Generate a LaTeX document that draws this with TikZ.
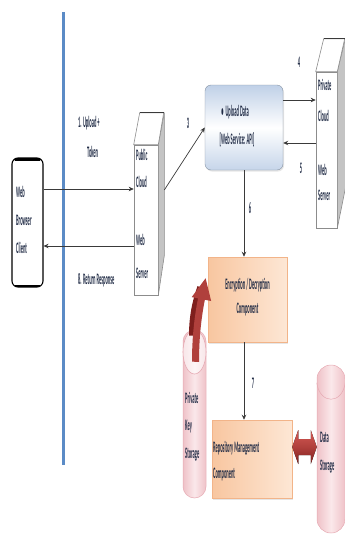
\documentclass[tikz,border=0pt]{standalone}
\usepackage{fontspec}
\newfontfamily\cf[FakeStretch=0.28]{Carlito}
\usetikzlibrary{arrows.meta,shapes.geometric,calc,shadows}
\definecolor{ink}{HTML}{1F2A44}
\definecolor{blueline}{HTML}{5B8BC6}
\definecolor{linegray}{HTML}{3A3A3A}
\definecolor{boxgray}{HTML}{8C8C8C}
\definecolor{sidegray}{HTML}{C4C4C4}
\definecolor{apitop}{HTML}{BFD0E7}
\definecolor{apibot}{HTML}{C6D5EA}
\definecolor{orleft}{HTML}{F8C6A0}
\definecolor{orright}{HTML}{FDE7D5}
\definecolor{orborder}{HTML}{F2B489}
\definecolor{pinkedge}{HTML}{EFC2C8}
\definecolor{pinkmid}{HTML}{FBE8EA}
\definecolor{pinkline}{HTML}{E6AAB3}
\definecolor{redarrow}{HTML}{B0403C}
\definecolor{reddark}{HTML}{7E1F1D}
\definecolor{redlight}{HTML}{D65A55}
\begin{document}
\begin{tikzpicture}[x=1pt,y=-1pt,
  txt/.style={font=\cf\bfseries\fontsize{16}{18}\selectfont, text=ink, inner sep=0pt},
  conn/.style={draw=linegray, line width=0.7pt, -{Stealth[length=5pt,width=4.5pt]}},
  frontface/.style={draw=boxgray, line width=0.6pt, fill=white, inner sep=0pt},
  orbox/.style={draw=orborder, line width=0.5pt, left color=orleft, right color=orright, inner sep=0pt,
     drop shadow={opacity=0.2, shadow xshift=1pt, shadow yshift=-1.5pt}},
  pill/.style={draw=pinkline, line width=0.5pt, left color=pinkedge, right color=pinkedge, middle color=pinkmid}
]
\useasboundingbox (0,0) rectangle (345,536);

% blue separator
\draw[blueline, line width=3pt] (63,12) -- (63,465);

% web browser client
\node[draw=black, line width=1.1pt, rounded corners=6pt, minimum width=31pt, minimum height=129pt, inner sep=0pt, fill=white] (client) at (27.5,222.5) {};
\draw[line width=3pt, line cap=round] ($(client.north west)+(4,2)$) -- ($(client.north east)+(-4,2)$);
\draw[line width=2pt, line cap=round] ($(client.south west)+(4,-1.5)$) -- ($(client.south east)+(-4,-1.5)$);
\node[txt, anchor=west] (cl1) at (16,192) {Web};
\node[txt, anchor=west] (cl2) at (16,220) {Browser};
\node[txt, anchor=west] (cl3) at (16,248) {Client};

% public cloud web server (3D box)
\node[frontface, minimum width=24pt, minimum height=150pt] (pubf) at (146,220) {};
\draw[draw=boxgray, line width=0.6pt, fill=sidegray] (pubf.north east) -- ++(6,-32) -- ++(0,143) -- ($(pubf.south east)$) -- cycle;
\draw[draw=boxgray, line width=0.6pt, fill=white] (pubf.north west) -- ++(6,-32) -- ++(24,0) -- (pubf.north east) -- cycle;
\draw[line width=1pt, draw=linegray] ($(pubf.north west)+(6,-32)$) -- ++(24,0);
\node[txt, anchor=west] (pu1) at (136,155) {Public};
\node[txt, anchor=west] (pu2) at (136,182) {Cloud};
\node[txt, anchor=west] (pu3) at (136,240) {Web};
\node[txt, anchor=west] (pu4) at (136,273) {Server};

% private cloud web server (3D box)
\node[frontface, minimum width=21pt, minimum height=156pt] (privf) at (326.5,150) {};
\draw[draw=boxgray, line width=0.6pt, fill=sidegray] (privf.north east) -- ++(8,-33) -- ++(0,150) -- (privf.south east) -- cycle;
\draw[draw=boxgray, line width=0.6pt, fill=white] (privf.north west) -- ++(8,-33) -- ++(21,0) -- (privf.north east) -- cycle;
\draw[line width=1pt, draw=linegray] ($(privf.north west)+(8,-33)$) -- ++(21,0);
\node[txt, anchor=west] (pr1) at (318,85) {Private};
\node[txt, anchor=west] (pr2) at (318,116) {Cloud};
\node[txt, anchor=west] (pr3) at (318,170) {Web};
\node[txt, anchor=west] (pr4) at (318,195) {Server};

% API box
\node[draw=apitop!70!black, line width=0.4pt, rounded corners=6pt, minimum width=78pt, minimum height=85pt,
      top color=apitop, bottom color=apibot, middle color=white, inner sep=0pt,
      drop shadow={opacity=0.2, shadow xshift=1pt, shadow yshift=-1.5pt}] (api) at (244,127.5) {};
\node[txt, anchor=center] (ap1) at (235,112) {\textbullet\ \ Upload Data};
\node[txt, anchor=center] (ap2) at (237,140) {[Web Service: API]};

% encryption box
\node[orbox, minimum width=79pt, minimum height=85pt] (enc) at (247.5,299.5) {};
\node[txt] (en1) at (247.5,285) {Encryption / Decryption};
\node[txt] (en2) at (247.5,310) {Component};

% repository box
\node[orbox, minimum width=80pt, minimum height=78pt] (repo) at (252,459) {};
\node[txt, anchor=west] (re1) at (213,448) {Repository Management};
\node[txt, anchor=west] (re2) at (213,475) {Component};

% private key storage
\node[pill, rounded corners=11.5pt, minimum width=23pt, minimum height=168pt, inner sep=0pt] (pks) at (194.5,414) {};
\draw[draw=pinkline, line width=0.6pt, fill=white, fill opacity=0.6] (194.5,352) ellipse [x radius=11.5pt, y radius=22pt];
\node[txt, anchor=west] (pk1) at (185,398) {Private};
\node[txt, anchor=west] (pk2) at (185,427) {Key};
\node[txt, anchor=west] (pk3) at (185,455) {Storage};

% data storage
\node[pill, rounded corners=14pt, minimum width=28pt, minimum height=168pt, inner sep=0pt] (ds) at (331,449) {};
\draw[draw=pinkline, line width=0.5pt] ($(ds.north west)+(0,18)$) .. controls ($(ds.north west)+(3,40)$) and ($(ds.north east)+(-3,40)$) .. ($(ds.north east)+(0,18)$);
\node[txt, anchor=west] (ds1) at (320,437) {Data};
\node[txt, anchor=west] (ds2) at (320,467) {Storage};

% red curved arrow from key storage to encryption
\coordinate (ra0) at ($(pks.north)+(1,32)$);
\coordinate (ra1) at ($(enc.west)+(-2,-22)$);
\draw[reddark, line width=9pt] ($(ra0)+(-2,-26)$) .. controls ($(ra0)+(-2,-50)$) and ($(ra0)+(3,-64)$) .. ($(ra1)+(-4,10)$);
\draw[redarrow, line width=7pt, -{Triangle[length=22pt,width=18pt]}] (ra0) .. controls ($(ra0)+(0,-32)$) and ($(ra1)+(-6,30)$) .. (ra1);

% double arrow repository <-> data storage
\coordinate (dl) at (repo.east |- 0,447);
\coordinate (dr) at (ds.west |- 0,447);
\fill[top color=redlight, bottom color=reddark, middle color=redarrow]
  (dl) -- ($(dl)+(6,-17)$) -- ($(dl)+(6,-8)$) -- ($(dr)+(-6,-8)$) -- ($(dr)+(-6,-17)$) -- (dr)
  -- ($(dr)+(-6,17)$) -- ($(dr)+(-6,8)$) -- ($(dl)+(6,8)$) -- ($(dl)+(6,17)$) -- cycle;

% connectors
\coordinate (a1) at ($(client.east)+(0,-33.5)$);
\draw[conn] (a1) -- (a1 -| pubf.west);
\coordinate (a8) at ($(client.east)+(0,23.5)$);
\draw[conn] (a8 -| pubf.west) -- (a8);
\coordinate (a3) at ($(pubf.east)+(6,-30)$);
\draw[conn] (a3) -- (api.west);
\coordinate (a4) at ($(api.east)+(0,-27.5)$);
\draw[conn] (a4) -- (a4 -| privf.west);
\coordinate (a5) at ($(api.east)+(0,15.5)$);
\draw[conn] (a5 -| privf.west) -- (a5);
\draw[conn] (api.south) -- (api.south |- enc.north);
\draw[conn] (api.south |- enc.south) -- (api.south |- repo.north);

% labels
\node[txt, anchor=west] (l1a) at (78,123) {1. Upload +};
\node[txt, anchor=west] (l1b) at (87,152) {Token};
\node[txt, anchor=west] (l8) at (78,280) {8. Return Response};
\node[txt] (l3) at (188,123) {3};
\node[txt] (l4) at (299,62) {4};
\node[txt] (l5) at (301,168) {5};
\node[txt] (l6) at (250,208) {6};
\node[txt] (l7) at (253,383) {7};
\end{tikzpicture}
\end{document}
